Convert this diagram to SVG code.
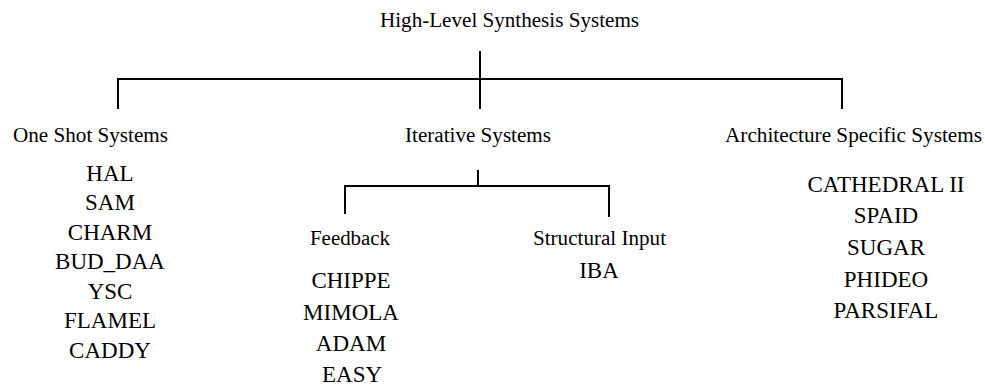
<svg xmlns="http://www.w3.org/2000/svg" width="985" height="386" viewBox="0 0 985 386">
  <style>
    text { font-family: "Liberation Serif", "Times New Roman", serif; fill: #000; }
    .head { font-size: 20px; }
    .item { font-size: 23px; text-anchor: middle; }
    .wire { stroke: #000; stroke-width: 2; fill: none; }
  </style>
  <rect width="985" height="386" fill="#fff"/>

  <g id="connectors">
    <!-- root to the three classes -->
    <path class="wire" d="M480 51 V109"/>
    <path class="wire" d="M118 109 V79 H842 V109"/>
    <!-- iterative systems to its two kinds -->
    <path class="wire" d="M478 170 V186"/>
    <path class="wire" d="M345 214 V186 H609 V217"/>
  </g>

  <g id="root">
    <text class="head" x="380" y="27" textLength="259" lengthAdjust="spacingAndGlyphs">High-Level Synthesis Systems</text>
  </g>

  <g id="one-shot">
    <text class="head" x="13" y="142" textLength="155" lengthAdjust="spacingAndGlyphs">One Shot Systems</text>
    <text class="item" x="110" y="181">HAL</text>
    <text class="item" x="110" y="210">SAM</text>
    <text class="item" x="110" y="240">CHARM</text>
    <text class="item" x="110" y="269">BUD_DAA</text>
    <text class="item" x="110" y="299">YSC</text>
    <text class="item" x="110" y="328">FLAMEL</text>
    <text class="item" x="110" y="358">CADDY</text>
  </g>

  <g id="iterative">
    <text class="head" x="405" y="142" textLength="146" lengthAdjust="spacingAndGlyphs">Iterative Systems</text>
  </g>

  <g id="feedback">
    <text class="head" x="310" y="245" textLength="80" lengthAdjust="spacingAndGlyphs">Feedback</text>
    <text class="item" x="351" y="288">CHIPPE</text>
    <text class="item" x="351" y="320">MIMOLA</text>
    <text class="item" x="351" y="351">ADAM</text>
    <text class="item" x="352" y="382">EASY</text>
  </g>

  <g id="structural-input">
    <text class="head" x="533" y="245" textLength="133" lengthAdjust="spacingAndGlyphs">Structural Input</text>
    <text class="item" x="599" y="278">IBA</text>
  </g>

  <g id="architecture-specific">
    <text class="head" x="725" y="142" textLength="257" lengthAdjust="spacingAndGlyphs">Architecture Specific Systems</text>
    <text class="item" x="886" y="192">CATHEDRAL II</text>
    <text class="item" x="886" y="223">SPAID</text>
    <text class="item" x="886" y="255">SUGAR</text>
    <text class="item" x="886" y="287">PHIDEO</text>
    <text class="item" x="886" y="318">PARSIFAL</text>
  </g>
</svg>
